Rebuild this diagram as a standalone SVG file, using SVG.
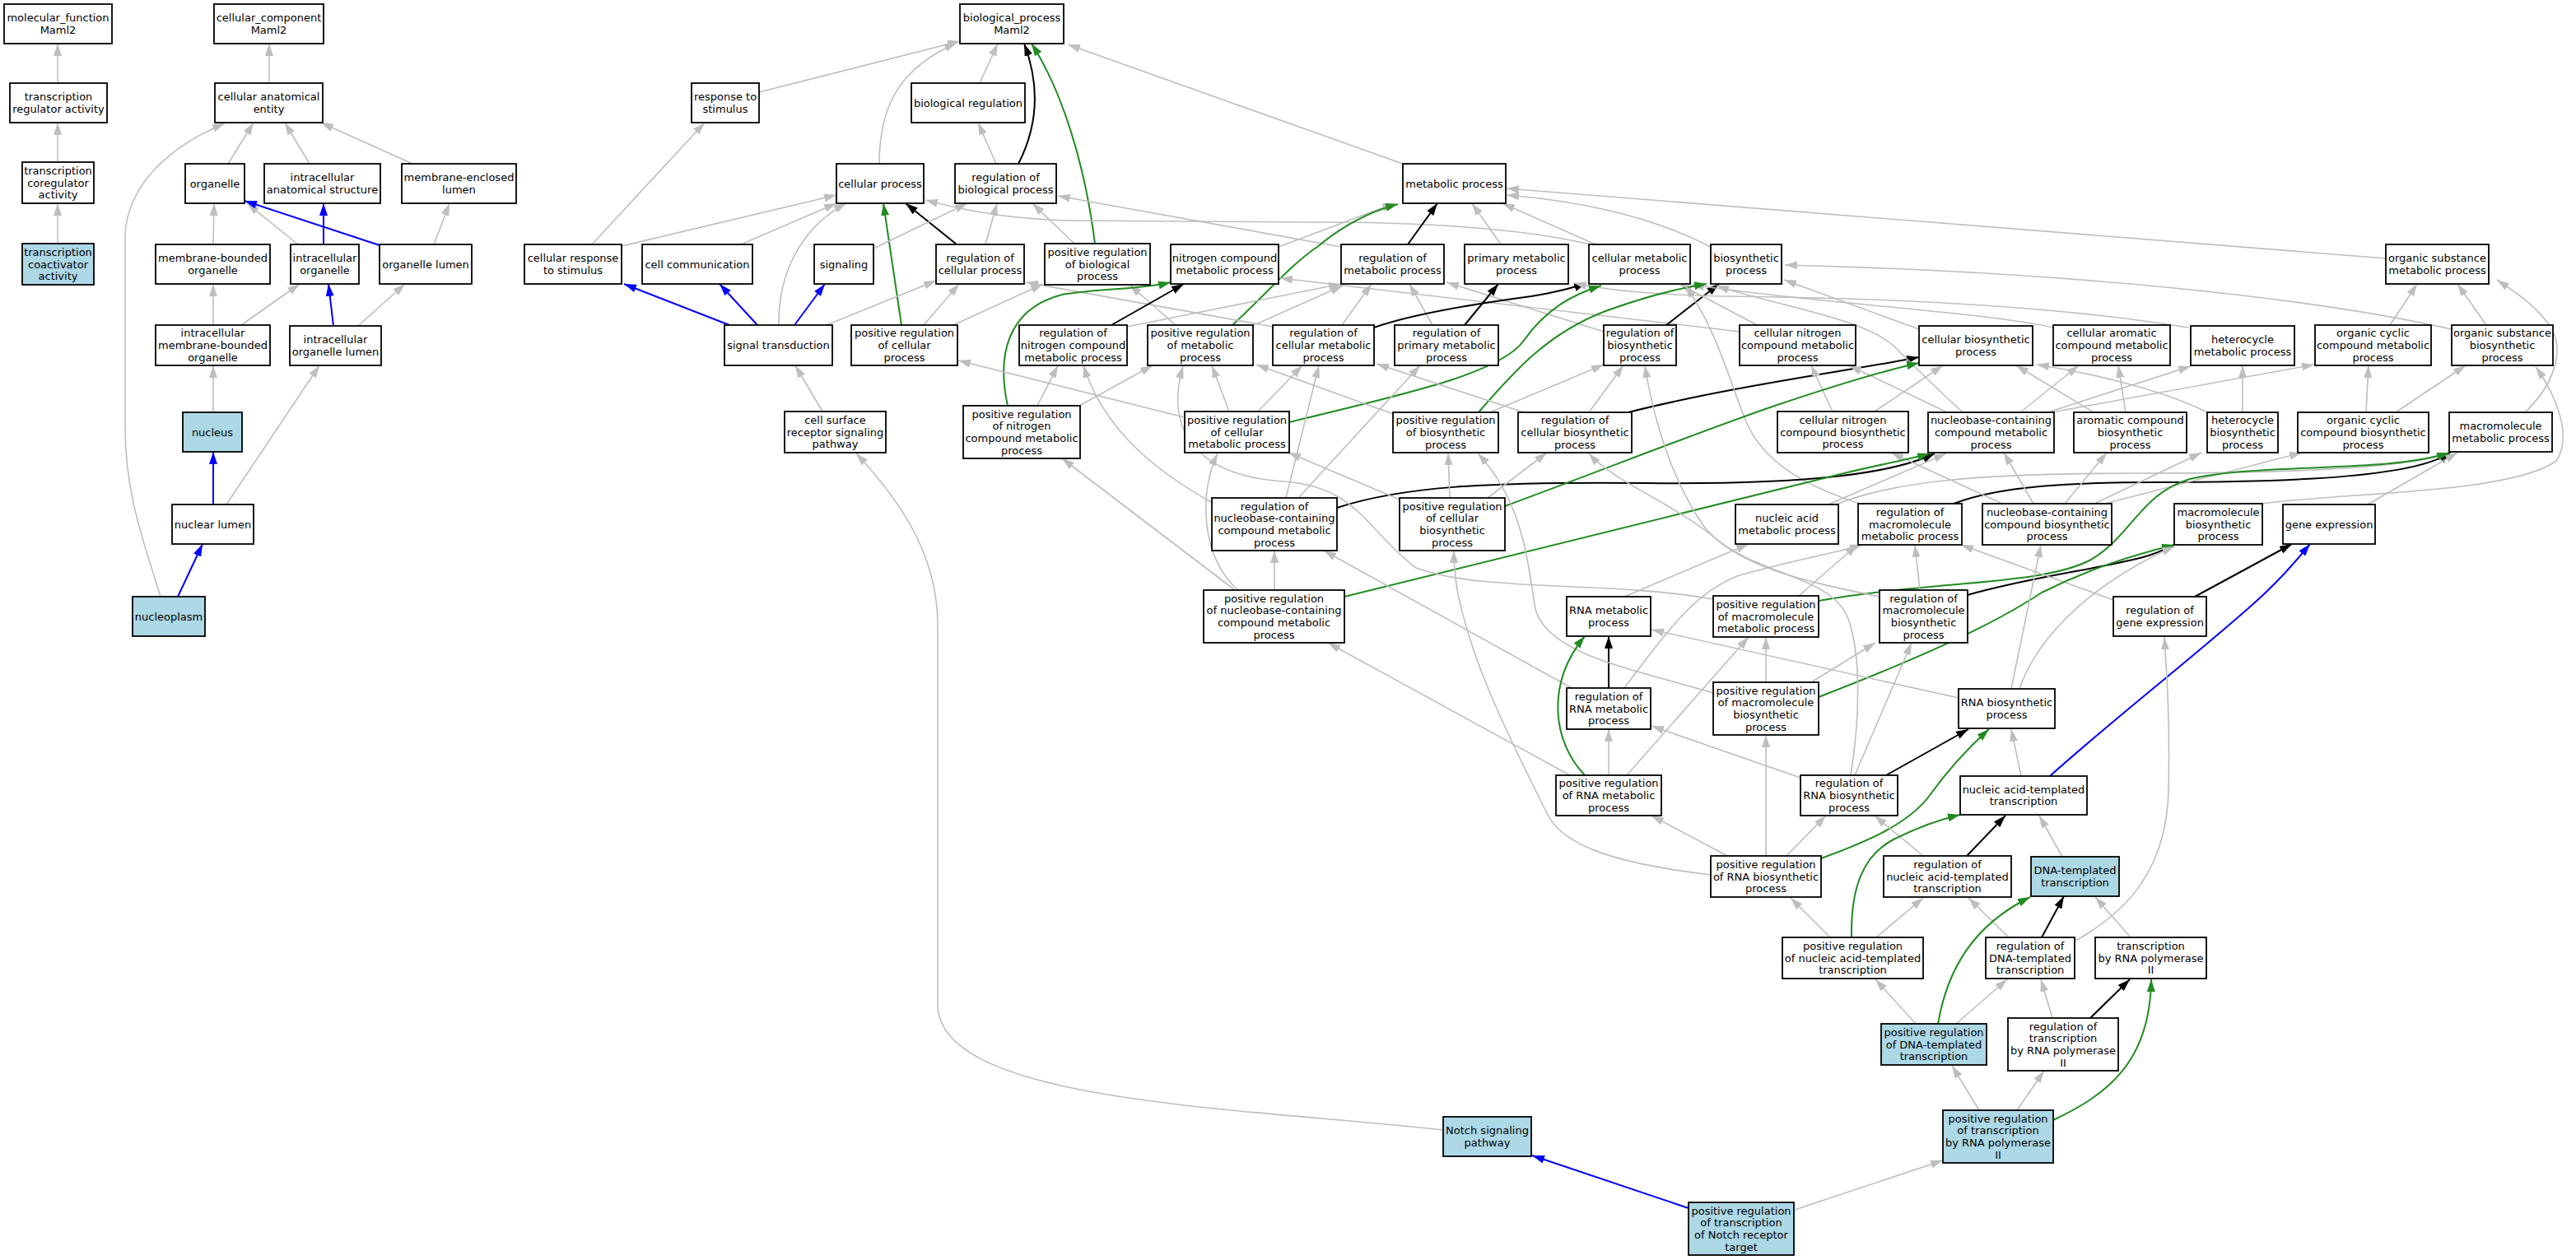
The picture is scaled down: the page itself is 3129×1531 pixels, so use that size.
<svg xmlns="http://www.w3.org/2000/svg" width="3129" height="1531" viewBox="0 0 3129 1531">
<style>
.n rect{fill:#fff;stroke:#000;stroke-width:1.8}
.a rect{fill:#add8e6}
text{font-family:"DejaVu Sans","Liberation Sans",sans-serif;font-size:13px;text-anchor:middle;fill:#000}
#edges path{fill:none;stroke-width:1.6}
#edges .g{stroke:#bebebe;marker-end:url(#mg)}
#edges .k{stroke:#000;stroke-width:2;marker-end:url(#mk)}
#edges .v{stroke:#228b22;stroke-width:2;marker-end:url(#mv)}
#edges .b{stroke:#0000ff;stroke-width:2;marker-end:url(#mb)}
</style>
<defs>
<marker id="mg" viewBox="0 0 15 10" refX="15" refY="5" markerWidth="15" markerHeight="10" markerUnits="userSpaceOnUse" orient="auto"><path d="M0,0L15,5L0,10z" fill="#bebebe"/></marker>
<marker id="mk" viewBox="0 0 15 10" refX="15" refY="5" markerWidth="15" markerHeight="10" markerUnits="userSpaceOnUse" orient="auto"><path d="M0,0L15,5L0,10z" fill="#000"/></marker>
<marker id="mv" viewBox="0 0 15 10" refX="15" refY="5" markerWidth="15" markerHeight="10" markerUnits="userSpaceOnUse" orient="auto"><path d="M0,0L15,5L0,10z" fill="#228b22"/></marker>
<marker id="mb" viewBox="0 0 15 10" refX="15" refY="5" markerWidth="15" markerHeight="10" markerUnits="userSpaceOnUse" orient="auto"><path d="M0,0L15,5L0,10z" fill="#0000ff"/></marker>
</defs>
<rect width="3129" height="1531" fill="#fff"/>
<g id="edges">
<path class="g" d="M70,101L70,53"/>
<path class="g" d="M70,197L70,149"/>
<path class="g" d="M70,296L70,247"/>
<path class="g" d="M327,101L327,53"/>
<path class="g" d="M277,199L308,149"/>
<path class="g" d="M376,199L346,149"/>
<path class="g" d="M501,199L390,149"/>
<path class="g" d="M259,297L260,247"/>
<path class="g" d="M362,297L300,247"/>
<path class="b" d="M461,298L297,244"/>
<path class="b" d="M393,297L393,247"/>
<path class="g" d="M527,297L546,247"/>
<path class="g" d="M259,395L259,345"/>
<path class="g" d="M293,395L364,345"/>
<path class="b" d="M405,396L399,345"/>
<path class="g" d="M435,396L492,345"/>
<path class="g" d="M259,501L259,444"/>
<path class="b" d="M259,613L259,549"/>
<path class="g" d="M275,613L388,444"/>
<path class="b" d="M216,725L246,661"/>
<path class="g" d="M195,725C175,660 152,600 152,520L152,290C152,230 200,180 273,150"/>
<path class="g" d="M922,112L1166,50"/>
<path class="g" d="M1068,199C1068,120 1100,80 1162,52"/>
<path class="g" d="M1190,101L1212,53"/>
<path class="k" d="M1237,199C1262,150 1262,100 1244,53"/>
<path class="v" d="M1330,296C1318,200 1290,110 1253,53"/>
<path class="g" d="M1704,199L1297,54"/>
<path class="g" d="M719,297L856,149"/>
<path class="g" d="M755,299L1016,237"/>
<path class="g" d="M900,297L1016,247"/>
<path class="g" d="M946,395C945,330 975,275 1028,247"/>
<path class="v" d="M1095,395L1073,247"/>
<path class="k" d="M1162,297L1100,247"/>
<path class="g" d="M1932,297C1860,280 1750,270 1600,270L1300,268C1220,266 1170,255 1124,243"/>
<path class="g" d="M1210,199L1188,149"/>
<path class="g" d="M1061,302L1175,247"/>
<path class="g" d="M1197,297L1211,247"/>
<path class="g" d="M1305,296L1254,247"/>
<path class="g" d="M1629,300L1285,238"/>
<path class="k" d="M1710,297L1746,247"/>
<path class="g" d="M1553,300L1694,247"/>
<path class="g" d="M1823,297L1788,247"/>
<path class="g" d="M1938,297L1825,247"/>
<path class="g" d="M2078,300C2010,265 1930,245 1830,237"/>
<path class="g" d="M2898,314L1830,229"/>
<path class="v" d="M1497,395C1540,355 1570,320 1600,300C1630,275 1660,258 1698,248"/>
<path class="b" d="M886,395L758,345"/>
<path class="b" d="M920,395L874,345"/>
<path class="b" d="M965,395L1002,345"/>
<path class="g" d="M1004,395L1137,341"/>
<path class="g" d="M1122,395L1165,345"/>
<path class="g" d="M1546,397L1246,343"/>
<path class="g" d="M1158,395L1267,345"/>
<path class="g" d="M1428,395L1372,346"/>
<path class="g" d="M999,500L966,444"/>
<path class="v" d="M1224,493C1210,430 1225,375 1290,358C1340,350 1385,352 1422,343"/>
<path class="k" d="M1350,395L1438,345"/>
<path class="g" d="M2113,403L1555,338"/>
<path class="g" d="M1369,397L1629,345"/>
<path class="g" d="M1523,395L1631,347"/>
<path class="g" d="M1630,395L1666,345"/>
<path class="g" d="M1740,395L1712,345"/>
<path class="g" d="M1948,403L1757,343"/>
<path class="k" d="M1669,398C1720,380 1800,368 1860,360C1890,355 1910,350 1927,344"/>
<path class="k" d="M1779,395L1820,345"/>
<path class="k" d="M2024,395L2088,345"/>
<path class="g" d="M2134,395L2040,345"/>
<path class="g" d="M2331,400L2167,340"/>
<path class="g" d="M2494,398C2400,378 2200,368 2055,346"/>
<path class="g" d="M2658,398C2500,372 2300,362 2100,360C2000,358 1950,352 1912,344"/>
<path class="g" d="M2978,400C2800,360 2500,330 2168,322"/>
<path class="g" d="M3020,395L2985,345"/>
<path class="g" d="M2903,395L2936,345"/>
<path class="g" d="M3067,501C3100,470 3115,430 3100,400C3080,370 3055,355 3033,340"/>
<path class="g" d="M2748,612C2850,598 3050,600 3105,560C3125,530 3105,480 3080,446"/>
<path class="v" d="M1566,513C1700,480 1820,455 1850,415C1878,375 1910,358 1945,347"/>
<path class="v" d="M1796,501C1840,450 1880,405 1950,378C2000,360 2040,350 2073,345"/>
<path class="g" d="M1493,500L1472,444"/>
<path class="g" d="M1528,500L1582,444"/>
<path class="g" d="M1438,507L1164,438"/>
<path class="g" d="M1260,493L1285,444"/>
<path class="g" d="M1311,493L1400,444"/>
<path class="g" d="M1810,501L1948,443"/>
<path class="g" d="M1692,503L1526,443"/>
<path class="k" d="M1978,501C2100,470 2250,450 2331,434"/>
<path class="g" d="M1930,501L1972,444"/>
<path class="g" d="M1851,501L1672,442"/>
<path class="g" d="M2226,500L2200,444"/>
<path class="g" d="M2277,500L2360,444"/>
<path class="g" d="M2365,501L2246,444"/>
<path class="g" d="M2454,501L2525,444"/>
<path class="g" d="M2487,501L2661,445"/>
<path class="g" d="M2492,501L2811,443"/>
<path class="g" d="M2384,501C2350,470 2320,440 2300,420C2260,385 2150,370 2085,347"/>
<path class="g" d="M2543,501L2449,444"/>
<path class="g" d="M2582,501L2573,444"/>
<path class="g" d="M2724,501L2724,444"/>
<path class="g" d="M2681,501C2620,470 2520,450 2474,443"/>
<path class="g" d="M2874,501L2877,444"/>
<path class="g" d="M2910,501L2995,444"/>
<path class="g" d="M2262,613C2190,590 2140,560 2120,510C2100,460 2085,400 2047,347"/>
<path class="k" d="M1624,617C1700,592 1800,585 2000,587C2200,589 2300,575 2350,551"/>
<path class="g" d="M1562,605L1602,444"/>
<path class="g" d="M1577,605L1725,444"/>
<path class="g" d="M1471,610C1400,570 1340,520 1316,444"/>
<path class="v" d="M1828,615C1950,570 2050,530 2150,495C2230,468 2290,450 2331,441"/>
<path class="g" d="M1761,605L1759,550"/>
<path class="g" d="M1807,605L1879,550"/>
<path class="g" d="M1700,607L1565,550"/>
<path class="g" d="M2221,613L2364,551"/>
<path class="g" d="M2230,613C2300,585 2400,575 2600,575C2800,575 2930,568 2976,550"/>
<path class="k" d="M2373,612C2430,590 2520,586 2620,586C2800,586 2940,578 2977,549"/>
<path class="g" d="M2470,612L2434,550"/>
<path class="g" d="M2508,612L2559,550"/>
<path class="g" d="M2544,612L2674,550"/>
<path class="g" d="M2557,612L2796,550"/>
<path class="g" d="M2432,612L2297,550"/>
<path class="g" d="M2876,613L2985,550"/>
<path class="g" d="M1548,717L1548,669"/>
<path class="v" d="M1633,725L2240,575C2290,563 2320,558 2344,551"/>
<path class="g" d="M1504,717C1460,680 1455,600 1479,551"/>
<path class="g" d="M1500,717L1290,557"/>
<path class="g" d="M1973,725L2124,661"/>
<path class="g" d="M2185,724L2256,662"/>
<path class="v" d="M2209,730C2350,705 2480,712 2540,680C2590,650 2600,600 2660,582C2750,562 2900,575 2975,550"/>
<path class="g" d="M2081,728C1950,705 1800,720 1720,690C1660,645 1650,592 1560,585C1450,578 1415,520 1437,445"/>
<path class="k" d="M2390,723C2470,700 2560,690 2610,675C2625,670 2632,666 2641,662"/>
<path class="g" d="M2332,717L2326,662"/>
<path class="g" d="M2283,725C2200,708 2110,690 2070,640C2035,590 2010,520 1998,444"/>
<path class="k" d="M2666,725L2784,661"/>
<path class="g" d="M2567,729L2382,662"/>
<path class="k" d="M1954,836L1954,773"/>
<path class="g" d="M1909,836L1608,669"/>
<path class="g" d="M1973,836C2030,760 2060,720 2110,700C2180,680 2230,672 2262,662"/>
<path class="g" d="M2145,829L2145,774"/>
<path class="v" d="M2209,847C2330,800 2420,760 2480,720C2540,690 2590,675 2641,662"/>
<path class="g" d="M2200,829L2278,781"/>
<path class="g" d="M2081,842C1980,812 1880,795 1865,740C1855,680 1850,610 1795,551"/>
<path class="g" d="M2379,848L2006,765"/>
<path class="g" d="M2443,837L2479,662"/>
<path class="g" d="M2453,837C2480,760 2560,700 2641,664"/>
<path class="g" d="M1954,942L1954,886"/>
<path class="v" d="M1925,942C1885,900 1878,830 1925,773"/>
<path class="g" d="M1907,942L1613,781"/>
<path class="g" d="M1976,942L2124,774"/>
<path class="k" d="M2291,942L2391,886"/>
<path class="g" d="M2187,945L2006,882"/>
<path class="g" d="M2253,942L2322,781"/>
<path class="g" d="M2248,942C2258,880 2262,800 2245,752C2225,700 2140,700 2085,655C2030,610 1960,585 1930,551"/>
<path class="g" d="M2455,943L2443,886"/>
<path class="b" d="M2490,943C2560,880 2650,810 2730,740C2770,705 2790,680 2806,661"/>
<path class="g" d="M2098,1040L2006,991"/>
<path class="g" d="M2170,1040L2218,991"/>
<path class="g" d="M2145,1040L2145,893"/>
<path class="v" d="M2212,1043C2270,1022 2320,1000 2345,965C2370,930 2395,905 2416,886"/>
<path class="g" d="M2078,1063C1970,1050 1900,1030 1880,990C1850,930 1810,850 1790,790C1770,730 1766,700 1766,669"/>
<path class="k" d="M2389,1040L2436,991"/>
<path class="g" d="M2336,1040L2277,991"/>
<path class="g" d="M2505,1041L2477,991"/>
<path class="v" d="M2249,1139C2248,1080 2262,1040 2300,1020C2330,1005 2355,996 2381,990"/>
<path class="g" d="M2279,1139L2336,1091"/>
<path class="g" d="M2223,1139L2175,1091"/>
<path class="k" d="M2480,1139L2507,1089"/>
<path class="g" d="M2440,1139L2391,1091"/>
<path class="g" d="M2521,1143C2580,1110 2632,1060 2634,960C2636,880 2632,820 2629,774"/>
<path class="g" d="M2588,1139L2545,1090"/>
<path class="g" d="M2327,1244L2278,1190"/>
<path class="g" d="M2376,1244L2438,1190"/>
<path class="v" d="M2354,1244C2365,1180 2395,1125 2466,1090"/>
<path class="g" d="M2493,1237L2479,1190"/>
<path class="k" d="M2539,1237L2587,1190"/>
<path class="g" d="M2404,1349L2371,1295"/>
<path class="g" d="M2450,1349L2483,1301"/>
<path class="v" d="M2494,1361C2560,1330 2612,1290 2613,1190"/>
<path class="b" d="M2051,1468L1861,1404"/>
<path class="g" d="M2180,1470L2360,1410"/>
<path class="g" d="M1753,1373C1500,1345 1139,1340 1139,1220L1139,760C1139,680 1100,615 1040,551"/>
</g>
<g id="mf" class="n"><rect x="5" y="5" width="131" height="48"/><text x="70.5" y="26.25">molecular_function<tspan x="70.5" dy="14.7">Maml2</tspan></text></g>
<g id="cc" class="n"><rect x="260" y="5" width="133" height="48"/><text x="326.5" y="26.25">cellular_component<tspan x="326.5" dy="14.7">Maml2</tspan></text></g>
<g id="bp" class="n"><rect x="1166" y="5" width="126" height="48"/><text x="1229" y="26.25">biological_process<tspan x="1229" dy="14.7">Maml2</tspan></text></g>
<g id="tra" class="n"><rect x="12" y="101" width="118" height="48"/><text x="71" y="122.25">transcription<tspan x="71" dy="14.7">regulator activity</tspan></text></g>
<g id="cae" class="n"><rect x="261" y="101" width="131" height="48"/><text x="326.5" y="122.25">cellular anatomical<tspan x="326.5" dy="14.7">entity</tspan></text></g>
<g id="rts" class="n"><rect x="840" y="101" width="82" height="48"/><text x="881" y="122.25">response to<tspan x="881" dy="14.7">stimulus</tspan></text></g>
<g id="breg" class="n"><rect x="1107" y="101" width="138" height="48"/><text x="1176" y="129.6">biological regulation</text></g>
<g id="tcra" class="n"><rect x="27" y="197" width="87" height="50"/><text x="70.5" y="211.9">transcription<tspan x="70.5" dy="14.7">coregulator</tspan><tspan x="70.5" dy="14.7">activity</tspan></text></g>
<g id="org" class="n"><rect x="225" y="199" width="72" height="48"/><text x="261" y="227.6">organelle</text></g>
<g id="ias" class="n"><rect x="321" y="199" width="141" height="48"/><text x="391.5" y="220.25">intracellular<tspan x="391.5" dy="14.7">anatomical structure</tspan></text></g>
<g id="mel" class="n"><rect x="488" y="199" width="139" height="48"/><text x="557.5" y="220.25">membrane-enclosed<tspan x="557.5" dy="14.7">lumen</tspan></text></g>
<g id="cp" class="n"><rect x="1016" y="199" width="106" height="48"/><text x="1069" y="227.6">cellular process</text></g>
<g id="rbp" class="n"><rect x="1160" y="199" width="123" height="48"/><text x="1221.5" y="220.25">regulation of<tspan x="1221.5" dy="14.7">biological process</tspan></text></g>
<g id="mp" class="n"><rect x="1704" y="199" width="125" height="48"/><text x="1766.5" y="227.6">metabolic process</text></g>
<g id="tcaa" class="n a"><rect x="27" y="296" width="87" height="50"/><text x="70.5" y="310.9">transcription<tspan x="70.5" dy="14.7">coactivator</tspan><tspan x="70.5" dy="14.7">activity</tspan></text></g>
<g id="mbo" class="n"><rect x="189" y="297" width="139" height="48"/><text x="258.5" y="318.25">membrane-bounded<tspan x="258.5" dy="14.7">organelle</tspan></text></g>
<g id="io" class="n"><rect x="353" y="297" width="83" height="48"/><text x="394.5" y="318.25">intracellular<tspan x="394.5" dy="14.7">organelle</tspan></text></g>
<g id="ol" class="n"><rect x="461" y="297" width="112" height="48"/><text x="517" y="325.6">organelle lumen</text></g>
<g id="crs" class="n"><rect x="637" y="297" width="118" height="48"/><text x="696" y="318.25">cellular response<tspan x="696" dy="14.7">to stimulus</tspan></text></g>
<g id="cc2" class="n"><rect x="780" y="297" width="134" height="48"/><text x="847" y="325.6">cell communication</text></g>
<g id="sig" class="n"><rect x="989" y="297" width="72" height="48"/><text x="1025" y="325.6">signaling</text></g>
<g id="rcp" class="n"><rect x="1137" y="297" width="107" height="48"/><text x="1190.5" y="318.25">regulation of<tspan x="1190.5" dy="14.7">cellular process</tspan></text></g>
<g id="prbp" class="n"><rect x="1269" y="296" width="128" height="50"/><text x="1333" y="310.9">positive regulation<tspan x="1333" dy="14.7">of biological</tspan><tspan x="1333" dy="14.7">process</tspan></text></g>
<g id="ncmp" class="n"><rect x="1422" y="297" width="131" height="48"/><text x="1487.5" y="318.25">nitrogen compound<tspan x="1487.5" dy="14.7">metabolic process</tspan></text></g>
<g id="rmp" class="n"><rect x="1629" y="297" width="125" height="48"/><text x="1691.5" y="318.25">regulation of<tspan x="1691.5" dy="14.7">metabolic process</tspan></text></g>
<g id="pmp" class="n"><rect x="1779" y="297" width="126" height="48"/><text x="1842" y="318.25">primary metabolic<tspan x="1842" dy="14.7">process</tspan></text></g>
<g id="cmp" class="n"><rect x="1930" y="297" width="123" height="48"/><text x="1991.5" y="318.25">cellular metabolic<tspan x="1991.5" dy="14.7">process</tspan></text></g>
<g id="bsp" class="n"><rect x="2078" y="297" width="86" height="48"/><text x="2121" y="318.25">biosynthetic<tspan x="2121" dy="14.7">process</tspan></text></g>
<g id="osmp" class="n"><rect x="2898" y="297" width="125" height="48"/><text x="2960.5" y="318.25">organic substance<tspan x="2960.5" dy="14.7">metabolic process</tspan></text></g>
<g id="imbo" class="n"><rect x="189" y="395" width="139" height="49"/><text x="258.5" y="409.4">intracellular<tspan x="258.5" dy="14.7">membrane-bounded</tspan><tspan x="258.5" dy="14.7">organelle</tspan></text></g>
<g id="iol" class="n"><rect x="352" y="396" width="111" height="48"/><text x="407.5" y="417.25">intracellular<tspan x="407.5" dy="14.7">organelle lumen</tspan></text></g>
<g id="st" class="n"><rect x="880" y="395" width="131" height="49"/><text x="945.5" y="424.1">signal transduction</text></g>
<g id="prcp" class="n"><rect x="1034" y="395" width="129" height="49"/><text x="1098.5" y="409.4">positive regulation<tspan x="1098.5" dy="14.7">of cellular</tspan><tspan x="1098.5" dy="14.7">process</tspan></text></g>
<g id="rncmp" class="n"><rect x="1238" y="395" width="131" height="49"/><text x="1303.5" y="409.4">regulation of<tspan x="1303.5" dy="14.7">nitrogen compound</tspan><tspan x="1303.5" dy="14.7">metabolic process</tspan></text></g>
<g id="prmp" class="n"><rect x="1394" y="395" width="128" height="49"/><text x="1458" y="409.4">positive regulation<tspan x="1458" dy="14.7">of metabolic</tspan><tspan x="1458" dy="14.7">process</tspan></text></g>
<g id="rcmp" class="n"><rect x="1546" y="395" width="123" height="49"/><text x="1607.5" y="409.4">regulation of<tspan x="1607.5" dy="14.7">cellular metabolic</tspan><tspan x="1607.5" dy="14.7">process</tspan></text></g>
<g id="rpmp" class="n"><rect x="1694" y="395" width="126" height="49"/><text x="1757" y="409.4">regulation of<tspan x="1757" dy="14.7">primary metabolic</tspan><tspan x="1757" dy="14.7">process</tspan></text></g>
<g id="rbsp" class="n"><rect x="1948" y="395" width="88" height="49"/><text x="1992" y="409.4">regulation of<tspan x="1992" dy="14.7">biosynthetic</tspan><tspan x="1992" dy="14.7">process</tspan></text></g>
<g id="cncmp" class="n"><rect x="2113" y="395" width="141" height="49"/><text x="2183.5" y="409.4">cellular nitrogen<tspan x="2183.5" dy="14.7">compound metabolic</tspan><tspan x="2183.5" dy="14.7">process</tspan></text></g>
<g id="cbp" class="n"><rect x="2331" y="396" width="138" height="48"/><text x="2400" y="417.25">cellular biosynthetic<tspan x="2400" dy="14.7">process</tspan></text></g>
<g id="cacmp" class="n"><rect x="2494" y="395" width="142" height="49"/><text x="2565" y="409.4">cellular aromatic<tspan x="2565" dy="14.7">compound metabolic</tspan><tspan x="2565" dy="14.7">process</tspan></text></g>
<g id="hmp" class="n"><rect x="2661" y="396" width="126" height="48"/><text x="2724" y="417.25">heterocycle<tspan x="2724" dy="14.7">metabolic process</tspan></text></g>
<g id="occmp" class="n"><rect x="2812" y="395" width="141" height="49"/><text x="2882.5" y="409.4">organic cyclic<tspan x="2882.5" dy="14.7">compound metabolic</tspan><tspan x="2882.5" dy="14.7">process</tspan></text></g>
<g id="osbp" class="n"><rect x="2978" y="395" width="123" height="49"/><text x="3039.5" y="409.4">organic substance<tspan x="3039.5" dy="14.7">biosynthetic</tspan><tspan x="3039.5" dy="14.7">process</tspan></text></g>
<g id="nuc" class="n a"><rect x="222" y="501" width="72" height="48"/><text x="258" y="529.6">nucleus</text></g>
<g id="csrsp" class="n"><rect x="953" y="500" width="123" height="50"/><text x="1014.5" y="514.9">cell surface<tspan x="1014.5" dy="14.7">receptor signaling</tspan><tspan x="1014.5" dy="14.7">pathway</tspan></text></g>
<g id="prncmp" class="n"><rect x="1170" y="493" width="142" height="64"/><text x="1241" y="507.55">positive regulation<tspan x="1241" dy="14.7">of nitrogen</tspan><tspan x="1241" dy="14.7">compound metabolic</tspan><tspan x="1241" dy="14.7">process</tspan></text></g>
<g id="prcmp" class="n"><rect x="1439" y="500" width="127" height="50"/><text x="1502.5" y="514.9">positive regulation<tspan x="1502.5" dy="14.7">of cellular</tspan><tspan x="1502.5" dy="14.7">metabolic process</tspan></text></g>
<g id="prbsp" class="n"><rect x="1692" y="501" width="128" height="49"/><text x="1756" y="515.4">positive regulation<tspan x="1756" dy="14.7">of biosynthetic</tspan><tspan x="1756" dy="14.7">process</tspan></text></g>
<g id="rcbp" class="n"><rect x="1844" y="501" width="138" height="49"/><text x="1913" y="515.4">regulation of<tspan x="1913" dy="14.7">cellular biosynthetic</tspan><tspan x="1913" dy="14.7">process</tspan></text></g>
<g id="cncbp" class="n"><rect x="2159" y="500" width="159" height="50"/><text x="2238.5" y="514.9">cellular nitrogen<tspan x="2238.5" dy="14.7">compound biosynthetic</tspan><tspan x="2238.5" dy="14.7">process</tspan></text></g>
<g id="nccmp" class="n"><rect x="2342" y="501" width="153" height="49"/><text x="2418.5" y="515.4">nucleobase-containing<tspan x="2418.5" dy="14.7">compound metabolic</tspan><tspan x="2418.5" dy="14.7">process</tspan></text></g>
<g id="acbp" class="n"><rect x="2519" y="501" width="137" height="49"/><text x="2587.5" y="515.4">aromatic compound<tspan x="2587.5" dy="14.7">biosynthetic</tspan><tspan x="2587.5" dy="14.7">process</tspan></text></g>
<g id="hbp" class="n"><rect x="2681" y="501" width="86" height="49"/><text x="2724" y="515.4">heterocycle<tspan x="2724" dy="14.7">biosynthetic</tspan><tspan x="2724" dy="14.7">process</tspan></text></g>
<g id="occbp" class="n"><rect x="2791" y="501" width="159" height="49"/><text x="2870.5" y="515.4">organic cyclic<tspan x="2870.5" dy="14.7">compound biosynthetic</tspan><tspan x="2870.5" dy="14.7">process</tspan></text></g>
<g id="mmp" class="n"><rect x="2975" y="501" width="125" height="48"/><text x="3037.5" y="522.25">macromolecule<tspan x="3037.5" dy="14.7">metabolic process</tspan></text></g>
<g id="nl" class="n"><rect x="209" y="613" width="99" height="48"/><text x="258.5" y="641.6">nuclear lumen</text></g>
<g id="rnccmp" class="n"><rect x="1472" y="605" width="152" height="64"/><text x="1548" y="619.55">regulation of<tspan x="1548" dy="14.7">nucleobase-containing</tspan><tspan x="1548" dy="14.7">compound metabolic</tspan><tspan x="1548" dy="14.7">process</tspan></text></g>
<g id="prcbp" class="n"><rect x="1700" y="605" width="128" height="64"/><text x="1764" y="619.55">positive regulation<tspan x="1764" dy="14.7">of cellular</tspan><tspan x="1764" dy="14.7">biosynthetic</tspan><tspan x="1764" dy="14.7">process</tspan></text></g>
<g id="namp" class="n"><rect x="2108" y="613" width="125" height="48"/><text x="2170.5" y="634.25">nucleic acid<tspan x="2170.5" dy="14.7">metabolic process</tspan></text></g>
<g id="rmmp" class="n"><rect x="2257" y="612" width="126" height="50"/><text x="2320" y="626.9">regulation of<tspan x="2320" dy="14.7">macromolecule</tspan><tspan x="2320" dy="14.7">metabolic process</tspan></text></g>
<g id="nccbp" class="n"><rect x="2408" y="612" width="157" height="50"/><text x="2486.5" y="626.9">nucleobase-containing<tspan x="2486.5" dy="14.7">compound biosynthetic</tspan><tspan x="2486.5" dy="14.7">process</tspan></text></g>
<g id="mbp" class="n"><rect x="2641" y="612" width="107" height="50"/><text x="2694.5" y="626.9">macromolecule<tspan x="2694.5" dy="14.7">biosynthetic</tspan><tspan x="2694.5" dy="14.7">process</tspan></text></g>
<g id="ge" class="n"><rect x="2773" y="613" width="112" height="48"/><text x="2829" y="641.6">gene expression</text></g>
<g id="npl" class="n a"><rect x="161" y="725" width="88" height="48"/><text x="205" y="753.6">nucleoplasm</text></g>
<g id="prnccmp" class="n"><rect x="1462" y="717" width="171" height="64"/><text x="1547.5" y="731.55">positive regulation<tspan x="1547.5" dy="14.7">of nucleobase-containing</tspan><tspan x="1547.5" dy="14.7">compound metabolic</tspan><tspan x="1547.5" dy="14.7">process</tspan></text></g>
<g id="rnamp" class="n"><rect x="1903" y="725" width="102" height="48"/><text x="1954" y="746.25">RNA metabolic<tspan x="1954" dy="14.7">process</tspan></text></g>
<g id="prmmp" class="n"><rect x="2081" y="724" width="128" height="50"/><text x="2145" y="738.9">positive regulation<tspan x="2145" dy="14.7">of macromolecule</tspan><tspan x="2145" dy="14.7">metabolic process</tspan></text></g>
<g id="rmbp" class="n"><rect x="2283" y="717" width="107" height="64"/><text x="2336.5" y="731.55">regulation of<tspan x="2336.5" dy="14.7">macromolecule</tspan><tspan x="2336.5" dy="14.7">biosynthetic</tspan><tspan x="2336.5" dy="14.7">process</tspan></text></g>
<g id="rge" class="n"><rect x="2567" y="725" width="113" height="48"/><text x="2623.5" y="746.25">regulation of<tspan x="2623.5" dy="14.7">gene expression</tspan></text></g>
<g id="rrnamp" class="n"><rect x="1903" y="836" width="102" height="50"/><text x="1954" y="850.9">regulation of<tspan x="1954" dy="14.7">RNA metabolic</tspan><tspan x="1954" dy="14.7">process</tspan></text></g>
<g id="prmbp" class="n"><rect x="2081" y="829" width="128" height="64"/><text x="2145" y="843.55">positive regulation<tspan x="2145" dy="14.7">of macromolecule</tspan><tspan x="2145" dy="14.7">biosynthetic</tspan><tspan x="2145" dy="14.7">process</tspan></text></g>
<g id="rnabp" class="n"><rect x="2379" y="837" width="117" height="48"/><text x="2437.5" y="858.25">RNA biosynthetic<tspan x="2437.5" dy="14.7">process</tspan></text></g>
<g id="prrnamp" class="n"><rect x="1890" y="942" width="128" height="49"/><text x="1954" y="956.4">positive regulation<tspan x="1954" dy="14.7">of RNA metabolic</tspan><tspan x="1954" dy="14.7">process</tspan></text></g>
<g id="rrnabp" class="n"><rect x="2187" y="942" width="118" height="49"/><text x="2246" y="956.4">regulation of<tspan x="2246" dy="14.7">RNA biosynthetic</tspan><tspan x="2246" dy="14.7">process</tspan></text></g>
<g id="natt" class="n"><rect x="2381" y="943" width="154" height="47"/><text x="2458" y="963.75">nucleic acid-templated<tspan x="2458" dy="14.7">transcription</tspan></text></g>
<g id="prrnabp" class="n"><rect x="2078" y="1040" width="134" height="50"/><text x="2145" y="1054.9">positive regulation<tspan x="2145" dy="14.7">of RNA biosynthetic</tspan><tspan x="2145" dy="14.7">process</tspan></text></g>
<g id="rnatt" class="n"><rect x="2288" y="1040" width="155" height="50"/><text x="2365.5" y="1054.9">regulation of<tspan x="2365.5" dy="14.7">nucleic acid-templated</tspan><tspan x="2365.5" dy="14.7">transcription</tspan></text></g>
<g id="dtt" class="n a"><rect x="2467" y="1041" width="107" height="48"/><text x="2520.5" y="1062.25">DNA-templated<tspan x="2520.5" dy="14.7">transcription</tspan></text></g>
<g id="prnatt" class="n"><rect x="2165" y="1139" width="171" height="50"/><text x="2250.5" y="1153.9">positive regulation<tspan x="2250.5" dy="14.7">of nucleic acid-templated</tspan><tspan x="2250.5" dy="14.7">transcription</tspan></text></g>
<g id="rdtt" class="n"><rect x="2412" y="1139" width="108" height="50"/><text x="2466" y="1153.9">regulation of<tspan x="2466" dy="14.7">DNA-templated</tspan><tspan x="2466" dy="14.7">transcription</tspan></text></g>
<g id="trp2" class="n"><rect x="2545" y="1139" width="135" height="50"/><text x="2612.5" y="1153.9">transcription<tspan x="2612.5" dy="14.7">by RNA polymerase</tspan><tspan x="2612.5" dy="14.7">II</tspan></text></g>
<g id="prdtt" class="n a"><rect x="2285" y="1244" width="128" height="50"/><text x="2349" y="1258.9">positive regulation<tspan x="2349" dy="14.7">of DNA-templated</tspan><tspan x="2349" dy="14.7">transcription</tspan></text></g>
<g id="rtrp2" class="n"><rect x="2439" y="1237" width="134" height="64"/><text x="2506" y="1251.55">regulation of<tspan x="2506" dy="14.7">transcription</tspan><tspan x="2506" dy="14.7">by RNA polymerase</tspan><tspan x="2506" dy="14.7">II</tspan></text></g>
<g id="notch" class="n a"><rect x="1753" y="1357" width="107" height="48"/><text x="1806.5" y="1378.25">Notch signaling<tspan x="1806.5" dy="14.7">pathway</tspan></text></g>
<g id="prtrp2" class="n a"><rect x="2360" y="1349" width="134" height="64"/><text x="2427" y="1363.55">positive regulation<tspan x="2427" dy="14.7">of transcription</tspan><tspan x="2427" dy="14.7">by RNA polymerase</tspan><tspan x="2427" dy="14.7">II</tspan></text></g>
<g id="prtnrt" class="n a"><rect x="2051" y="1461" width="128" height="64"/><text x="2115" y="1475.55">positive regulation<tspan x="2115" dy="14.7">of transcription</tspan><tspan x="2115" dy="14.7">of Notch receptor</tspan><tspan x="2115" dy="14.7">target</tspan></text></g>
</svg>
